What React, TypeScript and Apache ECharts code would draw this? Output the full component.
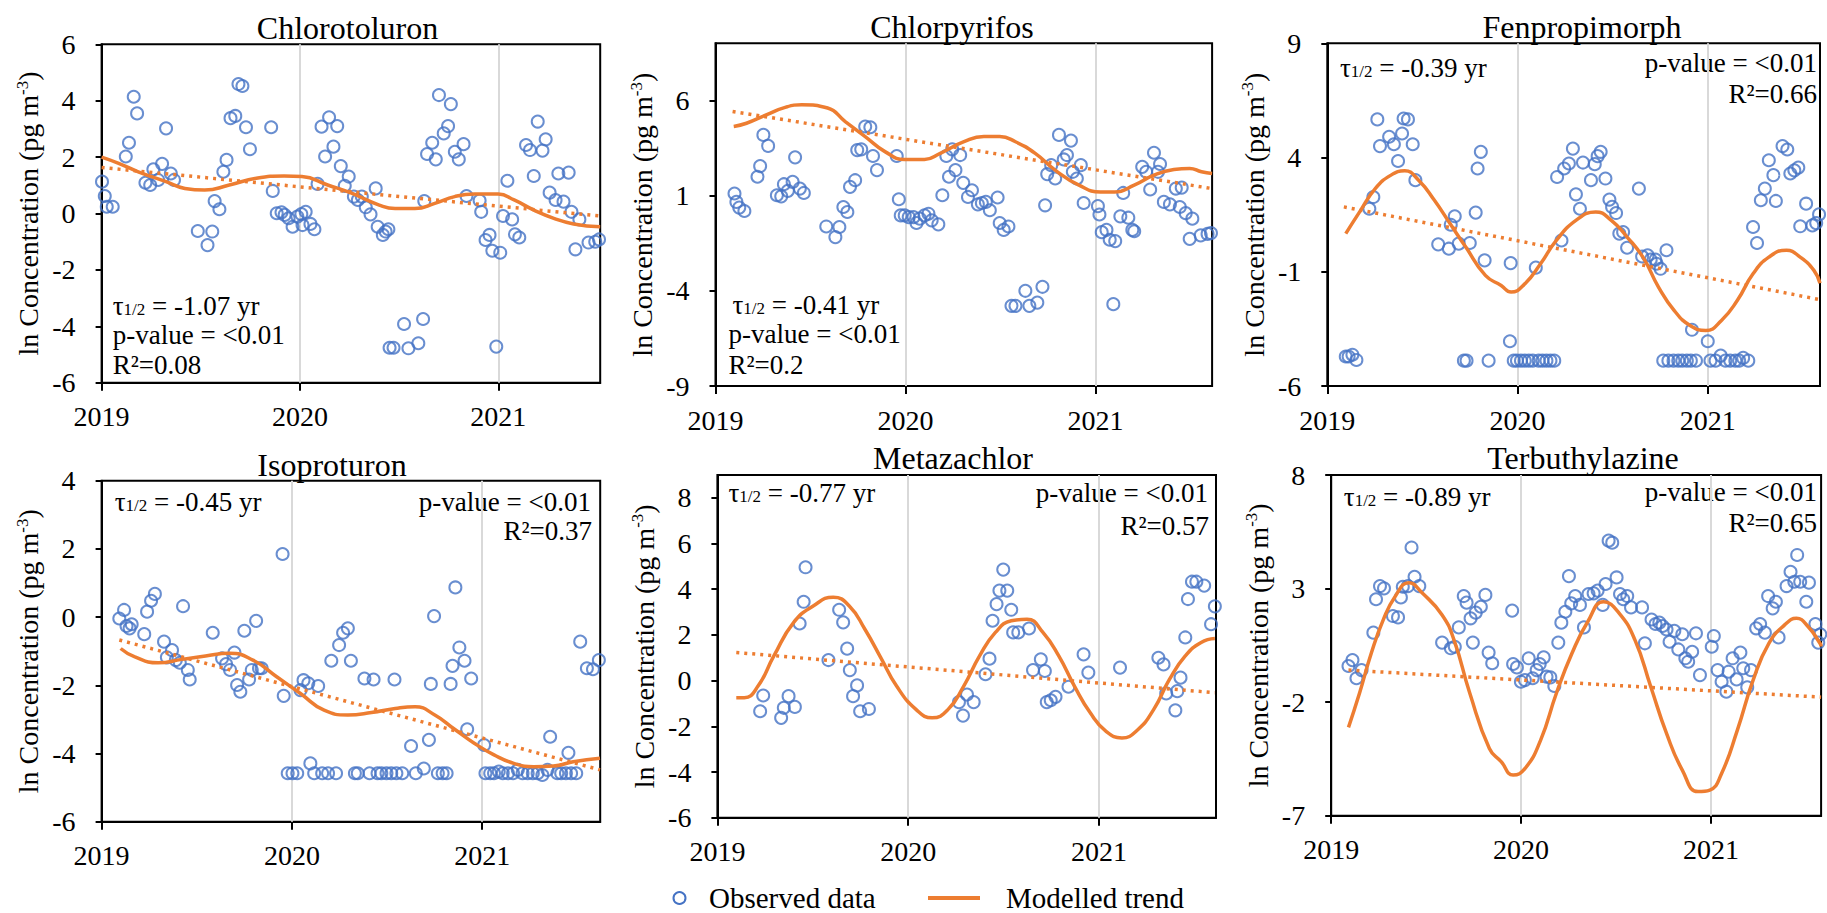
import React, { useEffect, useRef } from 'react';
import * as echarts from 'echarts';

const FONT = 'Liberation Serif, Times New Roman, serif';
const BLUE = '#4472C4';
const ORANGE = '#ED7D31';
const GRIDGRAY = '#D9D9D9';

// ---------- tick labels ----------
const yearTicks = [2019, 2020, 2021];
const chlorotoluronYTicks = [-6, -4, -2, 0, 2, 4, 6];
const chlorpyrifosYTicks = [-9, -4, 1, 6];
const fenpropimorphYTicks = [-6, -1, 4, 9];
const isoproturonYTicks = [-6, -4, -2, 0, 2, 4];
const metazachlorYTicks = [-6, -4, -2, 0, 2, 4, 6, 8];
const terbuthylazineYTicks = [-7, -2, 3, 8];

// ---------- panel texts ----------
const panelTitles = ['Chlorotoluron', 'Chlorpyrifos', 'Fenpropimorph', 'Isoproturon', 'Metazachlor', 'Terbuthylazine'];
const halfLives = ['-1.07', '-0.41', '-0.39', '-0.45', '-0.77', '-0.89'];
const pValues = ['<0.01', '<0.01', '<0.01', '<0.01', '<0.01', '<0.01'];
const rSquared = ['0.08', '0.2', '0.66', '0.37', '0.57', '0.65'];
const yAxisRanges = [[-6, 6, 2], [-9, 9, 5], [-6, 9, 5], [-6, 4, 2], [-6, 9, 2], [-7, 8, 5]];
const xMaxYears = [2021.514, 2021.614, 2021.59, 2021.62, 2021.613, 2021.58];

// ---------- Chlorotoluron ----------
const chlorotoluronObs = [[2019.002,1.13],[2019.016,0.62],[2019.026,0.24],[2019.056,0.24],[2019.122,2.02],[2019.138,2.51],[2019.162,4.14],[2019.179,3.55],[2019.221,1.09],[2019.245,1.01],[2019.261,1.57],[2019.285,1.19],[2019.305,1.76],[2019.325,3.02],[2019.349,1.42],[2019.365,1.19],[2019.485,-0.62],[2019.534,-1.12],[2019.558,-0.64],[2019.570,0.44],[2019.594,0.15],[2019.614,1.48],[2019.630,1.90],[2019.650,3.38],[2019.674,3.46],[2019.690,4.59],[2019.710,4.52],[2019.728,3.06],[2019.748,2.28],[2019.855,3.06],[2019.863,0.80],[2019.883,0.01],[2019.907,0.04],[2019.923,-0.05],[2019.943,-0.17],[2019.963,-0.47],[2019.987,-0.11],[2020.007,-0.02],[2020.013,-0.41],[2020.029,0.06],[2020.053,-0.37],[2020.073,-0.56],[2020.089,1.05],[2020.109,3.08],[2020.127,2.02],[2020.147,3.41],[2020.169,2.37],[2020.188,3.10],[2020.206,1.68],[2020.226,0.98],[2020.246,1.31],[2020.272,0.60],[2020.292,0.48],[2020.312,0.60],[2020.332,0.22],[2020.356,-0.03],[2020.382,0.89],[2020.392,-0.47],[2020.418,-0.76],[2020.432,-0.64],[2020.446,-0.56],[2020.452,-4.76],[2020.472,-4.76],[2020.525,-3.92],[2020.547,-4.78],[2020.597,-4.60],[2020.621,-3.74],[2020.627,0.44],[2020.641,2.11],[2020.667,2.51],[2020.685,1.92],[2020.701,4.20],[2020.725,2.84],[2020.747,3.10],[2020.761,3.88],[2020.781,2.19],[2020.801,1.92],[2020.825,2.46],[2020.840,0.62],[2020.906,0.46],[2020.914,0.06],[2020.936,-0.94],[2020.956,-0.76],[2020.970,-1.32],[2020.990,-4.72],[2021.010,-1.39],[2021.024,-0.09],[2021.046,1.16],[2021.070,-0.21],[2021.084,-0.74],[2021.106,-0.85],[2021.140,2.43],[2021.160,2.25],[2021.179,1.33],[2021.199,3.26],[2021.223,2.23],[2021.239,2.63],[2021.259,0.74],[2021.289,0.48],[2021.303,1.42],[2021.329,0.42],[2021.355,1.45],[2021.369,0.06],[2021.389,-1.27],[2021.409,-0.21],[2021.455,-1.03],[2021.489,-1.00],[2021.508,-0.92]];
const chlorotoluronTrend = [[2019.0,2.0],[2019.086,1.78],[2019.185,1.48],[2019.325,1.13],[2019.42,0.89],[2019.52,0.83],[2019.644,1.01],[2019.78,1.25],[2019.92,1.33],[2020.01,1.31],[2020.14,1.01],[2020.26,0.72],[2020.40,0.30],[2020.48,0.18],[2020.58,0.18],[2020.68,0.36],[2020.78,0.60],[2020.88,0.69],[2021.0,0.69],[2021.08,0.48],[2021.18,0.12],[2021.28,-0.17],[2021.38,-0.37],[2021.514,-0.47]];
const chlorotoluronLinear = [[2019.0,1.63],[2021.514,-0.09]];

// ---------- Chlorpyrifos ----------
const chlorpyrifosObs = [[2019.100,1.11],[2019.110,0.67],[2019.125,0.37],[2019.152,0.19],[2019.221,1.99],[2019.235,2.55],[2019.252,4.19],[2019.277,3.61],[2019.323,1.02],[2019.346,0.96],[2019.360,1.60],[2019.381,1.25],[2019.406,1.72],[2019.419,3.01],[2019.444,1.37],[2019.465,1.14],[2019.583,-0.62],[2019.631,-1.18],[2019.652,-0.65],[2019.673,0.40],[2019.694,0.14],[2019.708,1.46],[2019.735,1.81],[2019.746,3.39],[2019.767,3.43],[2019.788,4.63],[2019.815,4.59],[2019.829,3.08],[2019.850,2.34],[2019.954,3.08],[2019.965,0.81],[2019.975,-0.04],[2019.996,-0.04],[2020.017,-0.13],[2020.042,-0.13],[2020.058,-0.44],[2020.075,-0.21],[2020.100,-0.04],[2020.121,0.05],[2020.138,-0.30],[2020.173,-0.51],[2020.194,1.02],[2020.215,3.08],[2020.229,1.99],[2020.246,3.43],[2020.263,2.34],[2020.288,3.13],[2020.304,1.67],[2020.329,0.93],[2020.350,1.28],[2020.381,0.54],[2020.402,0.61],[2020.423,0.67],[2020.444,0.23],[2020.485,0.90],[2020.496,-0.44],[2020.517,-0.80],[2020.542,-0.62],[2020.558,-4.79],[2020.579,-4.79],[2020.631,-4.00],[2020.652,-4.79],[2020.694,-4.62],[2020.721,-3.79],[2020.735,0.49],[2020.746,2.13],[2020.767,2.60],[2020.788,1.90],[2020.808,4.19],[2020.833,2.90],[2020.850,3.13],[2020.871,3.89],[2020.881,2.25],[2020.902,1.90],[2020.923,2.60],[2020.938,0.61],[2021.013,0.45],[2021.021,0.01],[2021.033,-0.92],[2021.058,-0.80],[2021.075,-1.32],[2021.094,-4.70],[2021.104,-1.39],[2021.131,-0.09],[2021.146,1.14],[2021.173,-0.16],[2021.194,-0.80],[2021.204,-0.87],[2021.246,2.51],[2021.267,2.25],[2021.288,1.32],[2021.308,3.25],[2021.329,2.25],[2021.340,2.66],[2021.360,0.67],[2021.392,0.54],[2021.423,1.37],[2021.444,0.40],[2021.454,1.42],[2021.475,0.08],[2021.496,-1.27],[2021.510,-0.21],[2021.554,-1.09],[2021.590,-1.01],[2021.608,-0.97]];
const chlorpyrifosTrend = [[2019.096,4.63],[2019.163,4.80],[2019.267,5.24],[2019.371,5.65],[2019.454,5.77],[2019.590,5.60],[2019.683,4.89],[2019.788,4.10],[2019.892,3.31],[2019.996,2.90],[2020.100,2.90],[2020.183,3.22],[2020.308,3.83],[2020.413,4.10],[2020.496,4.10],[2020.579,3.83],[2020.683,3.22],[2020.788,2.34],[2020.913,1.55],[2021.027,1.19],[2021.100,1.19],[2021.204,1.55],[2021.308,2.07],[2021.413,2.37],[2021.496,2.43],[2021.558,2.25],[2021.614,2.16]];
const chlorpyrifosLinear = [[2019.09,5.42],[2021.614,1.37]];

// ---------- Fenpropimorph ----------
const fenpropimorphObs = [[2019.097,-4.71],[2019.112,-4.71],[2019.132,-4.63],[2019.153,-4.86],[2019.221,1.76],[2019.242,2.27],[2019.263,5.67],[2019.277,4.50],[2019.325,4.91],[2019.350,4.58],[2019.372,3.85],[2019.393,5.05],[2019.401,5.71],[2019.424,5.67],[2019.449,4.58],[2019.463,3.01],[2019.583,0.20],[2019.639,0.01],[2019.649,1.06],[2019.670,1.43],[2019.691,0.23],[2019.718,-4.89],[2019.732,-4.89],[2019.749,0.26],[2019.780,1.59],[2019.790,3.52],[2019.807,4.25],[2019.827,-0.50],[2019.848,-4.89],[2019.960,-4.04],[2019.964,-0.62],[2019.980,-4.89],[2019.997,-4.89],[2020.018,-4.89],[2020.038,-4.89],[2020.059,-4.89],[2020.080,-4.89],[2020.096,-0.82],[2020.111,-4.89],[2020.131,-4.89],[2020.152,-4.89],[2020.173,-4.89],[2020.193,-4.89],[2020.208,3.15],[2020.231,0.37],[2020.245,3.52],[2020.270,3.74],[2020.291,4.39],[2020.307,2.39],[2020.328,1.76],[2020.344,3.78],[2020.386,3.01],[2020.406,3.71],[2020.421,4.06],[2020.437,4.25],[2020.462,3.08],[2020.483,2.16],[2020.497,1.84],[2020.518,1.57],[2020.535,0.67],[2020.555,0.74],[2020.576,0.05],[2020.638,2.64],[2020.655,-0.33],[2020.684,-0.28],[2020.700,-0.47],[2020.725,-0.47],[2020.731,-0.65],[2020.752,-0.87],[2020.766,-4.89],[2020.783,-0.06],[2020.793,-4.89],[2020.820,-4.89],[2020.845,-4.89],[2020.866,-4.89],[2020.890,-4.89],[2020.911,-4.89],[2020.917,-3.54],[2020.938,-4.89],[2021.000,-4.04],[2021.014,-4.89],[2021.041,-4.89],[2021.068,-4.67],[2021.093,-4.89],[2021.118,-4.89],[2021.145,-4.89],[2021.165,-4.89],[2021.186,-4.77],[2021.213,-4.89],[2021.238,0.96],[2021.259,0.26],[2021.279,2.13],[2021.300,2.64],[2021.321,3.88],[2021.345,3.23],[2021.358,2.10],[2021.393,4.50],[2021.418,4.35],[2021.434,3.30],[2021.455,3.44],[2021.476,3.56],[2021.486,0.99],[2021.517,1.98],[2021.550,1.03],[2021.570,1.13],[2021.585,1.51]];
const fenpropimorphTrend = [[2019.097,0.67],[2019.170,1.62],[2019.252,2.64],[2019.335,3.23],[2019.407,3.42],[2019.480,3.01],[2019.563,2.13],[2019.645,1.11],[2019.728,0.08],[2019.831,-1.16],[2019.914,-1.60],[2019.966,-1.89],[2020.038,-1.53],[2020.121,-0.65],[2020.204,0.37],[2020.307,1.25],[2020.411,1.62],[2020.493,1.25],[2020.576,0.52],[2020.659,-0.36],[2020.741,-1.67],[2020.824,-2.70],[2020.907,-3.35],[2020.990,-3.57],[2021.072,-3.13],[2021.155,-2.26],[2021.238,-1.09],[2021.321,-0.36],[2021.414,-0.06],[2021.486,-0.36],[2021.558,-0.94],[2021.59,-1.50]];
const fenpropimorphLinear = [[2019.087,1.84],[2021.59,-2.22]];

// ---------- Isoproturon ----------
const isoproturonObs = [[2019.093,-0.04],[2019.118,0.21],[2019.131,-0.26],[2019.147,-0.33],[2019.158,-0.21],[2019.224,-0.50],[2019.239,0.16],[2019.260,0.48],[2019.280,0.68],[2019.328,-0.72],[2019.343,-1.18],[2019.370,-0.97],[2019.390,-1.26],[2019.411,-1.34],[2019.428,0.32],[2019.453,-1.55],[2019.463,-1.83],[2019.584,-0.46],[2019.633,-1.21],[2019.654,-1.38],[2019.675,-1.55],[2019.698,-1.04],[2019.712,-1.99],[2019.729,-2.19],[2019.750,-0.40],[2019.775,-1.83],[2019.789,-1.55],[2019.812,-0.11],[2019.827,-1.50],[2019.841,-1.50],[2019.951,1.85],[2019.957,-2.31],[2019.978,-4.58],[2020.003,-4.58],[2020.028,-4.58],[2020.045,-2.14],[2020.061,-1.85],[2020.086,-1.94],[2020.097,-4.29],[2020.117,-4.58],[2020.138,-2.02],[2020.159,-4.58],[2020.190,-4.58],[2020.207,-1.28],[2020.232,-4.58],[2020.248,-0.82],[2020.269,-0.46],[2020.294,-0.33],[2020.310,-1.28],[2020.331,-4.58],[2020.346,-4.58],[2020.381,-1.80],[2020.408,-4.58],[2020.429,-1.83],[2020.450,-4.58],[2020.470,-4.58],[2020.497,-4.58],[2020.522,-4.58],[2020.539,-1.83],[2020.549,-4.58],[2020.580,-4.58],[2020.626,-3.78],[2020.651,-4.58],[2020.693,-4.44],[2020.720,-3.60],[2020.730,-1.96],[2020.747,0.03],[2020.767,-4.58],[2020.792,-4.58],[2020.813,-4.58],[2020.834,-1.96],[2020.844,-1.43],[2020.859,0.87],[2020.880,-0.89],[2020.907,-1.28],[2020.921,-3.29],[2020.942,-1.80],[2021.010,-3.75],[2021.017,-4.58],[2021.042,-4.58],[2021.062,-4.58],[2021.087,-4.53],[2021.108,-4.58],[2021.135,-4.58],[2021.162,-4.58],[2021.187,-4.48],[2021.212,-4.58],[2021.239,-4.58],[2021.266,-4.58],[2021.291,-4.58],[2021.316,-4.63],[2021.343,-4.48],[2021.357,-3.51],[2021.395,-4.58],[2021.415,-4.58],[2021.440,-4.58],[2021.453,-3.98],[2021.467,-4.58],[2021.494,-4.58],[2021.515,-0.72],[2021.550,-1.50],[2021.582,-1.53],[2021.613,-1.26]];
const isoproturonTrend = [[2019.100,-0.92],[2019.172,-1.16],[2019.297,-1.34],[2019.422,-1.24],[2019.546,-1.14],[2019.671,-1.06],[2019.795,-1.26],[2019.920,-1.75],[2020.045,-2.24],[2020.169,-2.73],[2020.294,-2.87],[2020.418,-2.80],[2020.543,-2.68],[2020.647,-2.63],[2020.751,-2.87],[2020.855,-3.29],[2020.958,-3.70],[2021.062,-4.04],[2021.166,-4.29],[2021.270,-4.39],[2021.374,-4.37],[2021.478,-4.24],[2021.619,-4.14]];
const isoproturonLinear = [[2019.093,-0.67],[2021.619,-4.48]];

// ---------- Metazachlor ----------
const metazachlorObs = [[2019.224,-1.34],[2019.240,-0.65],[2019.334,-1.63],[2019.348,-1.19],[2019.373,-0.68],[2019.406,-1.15],[2019.431,2.50],[2019.452,3.45],[2019.462,4.96],[2019.582,0.90],[2019.638,3.10],[2019.659,2.55],[2019.680,1.40],[2019.694,0.46],[2019.711,-0.68],[2019.732,-0.21],[2019.748,-1.34],[2019.794,-1.24],[2020.266,-0.94],[2020.287,-1.53],[2020.308,-0.61],[2020.343,-0.94],[2020.405,0.28],[2020.426,0.96],[2020.442,2.62],[2020.463,3.35],[2020.478,3.94],[2020.498,4.86],[2020.519,3.94],[2020.540,3.10],[2020.550,2.11],[2020.577,2.11],[2020.633,2.28],[2020.654,0.46],[2020.695,0.93],[2020.716,0.42],[2020.726,-0.94],[2020.747,-0.86],[2020.772,-0.71],[2020.840,-0.27],[2020.919,1.15],[2020.944,0.35],[2021.110,0.57],[2021.311,1.00],[2021.338,0.71],[2021.352,-0.56],[2021.400,-1.30],[2021.410,-0.46],[2021.427,0.13],[2021.452,1.89],[2021.466,3.57],[2021.487,4.33],[2021.510,4.33],[2021.551,4.16],[2021.587,2.47],[2021.607,3.25]];
const metazachlorTrend = [[2019.099,-0.75],[2019.141,-0.75],[2019.213,-0.24],[2019.296,1.08],[2019.400,2.55],[2019.504,3.28],[2019.607,3.65],[2019.690,3.28],[2019.773,2.25],[2019.856,1.01],[2019.939,-0.24],[2020.042,-1.27],[2020.125,-1.63],[2020.208,-1.27],[2020.291,-0.24],[2020.374,1.08],[2020.457,2.11],[2020.540,2.62],[2020.623,2.69],[2020.706,2.11],[2020.789,1.08],[2020.871,-0.24],[2020.954,-1.41],[2021.037,-2.22],[2021.120,-2.51],[2021.203,-2.15],[2021.286,-1.27],[2021.369,0.05],[2021.452,1.08],[2021.535,1.67],[2021.607,1.84]];
const metazachlorLinear = [[2019.099,1.23],[2021.607,-0.53]];

// ---------- Terbuthylazine ----------
const terbuthylazineObs = [[2019.091,-0.41],[2019.112,-0.15],[2019.133,-0.95],[2019.160,-0.59],[2019.222,1.06],[2019.236,2.53],[2019.257,3.11],[2019.278,3.01],[2019.325,1.79],[2019.352,1.73],[2019.367,2.61],[2019.377,3.08],[2019.404,3.11],[2019.423,4.81],[2019.439,3.52],[2019.464,3.11],[2019.584,0.62],[2019.630,0.37],[2019.651,0.44],[2019.672,1.29],[2019.698,2.67],[2019.713,2.38],[2019.734,1.69],[2019.746,0.62],[2019.761,1.94],[2019.788,2.20],[2019.812,2.72],[2019.829,0.18],[2019.848,-0.29],[2019.953,2.03],[2019.958,-0.32],[2019.978,-0.47],[2019.999,-1.10],[2020.020,-1.03],[2020.040,-0.07],[2020.061,-0.95],[2020.082,-0.59],[2020.098,-0.32],[2020.119,-0.03],[2020.134,-0.88],[2020.154,-0.91],[2020.175,-1.29],[2020.196,0.62],[2020.212,1.50],[2020.233,1.98],[2020.252,3.55],[2020.264,2.35],[2020.285,2.67],[2020.310,2.28],[2020.331,1.29],[2020.355,2.76],[2020.382,2.79],[2020.403,2.91],[2020.430,2.28],[2020.445,3.20],[2020.461,5.11],[2020.480,5.02],[2020.503,3.49],[2020.521,2.76],[2020.538,2.53],[2020.559,2.67],[2020.579,2.17],[2020.637,2.17],[2020.652,0.59],[2020.687,1.64],[2020.708,1.44],[2020.728,1.50],[2020.745,1.35],[2020.766,1.20],[2020.782,0.66],[2020.807,1.14],[2020.828,0.32],[2020.849,0.99],[2020.865,-0.07],[2020.880,-0.22],[2020.901,0.22],[2020.921,1.03],[2020.942,-0.81],[2021.004,0.44],[2021.015,0.91],[2021.035,-0.59],[2021.056,-1.10],[2021.081,-1.54],[2021.093,-0.66],[2021.114,-0.07],[2021.135,-1.00],[2021.155,0.18],[2021.170,-0.51],[2021.191,-1.35],[2021.211,-0.59],[2021.238,1.25],[2021.259,1.44],[2021.284,1.06],[2021.301,2.67],[2021.325,2.13],[2021.342,2.42],[2021.356,0.85],[2021.398,3.11],[2021.419,3.74],[2021.439,3.30],[2021.454,4.48],[2021.470,3.30],[2021.502,2.42],[2021.516,3.26],[2021.550,1.44],[2021.565,0.62],[2021.576,0.99]];
const terbuthylazineTrend = [[2019.091,-3.11],[2019.149,-1.61],[2019.211,0.15],[2019.274,1.62],[2019.336,2.64],[2019.408,3.26],[2019.481,2.79],[2019.584,1.84],[2019.647,0.73],[2019.730,-1.61],[2019.833,-4.04],[2019.895,-4.62],[2019.958,-5.21],[2020.021,-4.92],[2020.103,-3.67],[2020.186,-1.61],[2020.268,0.15],[2020.351,1.54],[2020.434,2.42],[2020.517,1.91],[2020.600,0.73],[2020.683,-1.32],[2020.766,-3.38],[2020.849,-4.99],[2020.932,-5.94],[2020.994,-5.87],[2021.056,-5.14],[2021.139,-3.23],[2021.222,-1.03],[2021.305,0.59],[2021.388,1.40],[2021.450,1.69],[2021.512,1.32],[2021.574,0.59],[2021.58,0.45]];
const terbuthylazineLinear = [[2019.091,-0.59],[2021.58,-1.78]];

const observedSets = [chlorotoluronObs, chlorpyrifosObs, fenpropimorphObs, isoproturonObs, metazachlorObs, terbuthylazineObs];
const trendSets = [chlorotoluronTrend, chlorpyrifosTrend, fenpropimorphTrend, isoproturonTrend, metazachlorTrend, terbuthylazineTrend];
const linearSets = [chlorotoluronLinear, chlorpyrifosLinear, fenpropimorphLinear, isoproturonLinear, metazachlorLinear, terbuthylazineLinear];
const yTickSets = [chlorotoluronYTicks, chlorpyrifosYTicks, fenpropimorphYTicks, isoproturonYTicks, metazachlorYTicks, terbuthylazineYTicks];

// ---------- layout (pixels) ----------
const LAYOUT = [
  { grid: [101.6, 44.3, 498.6, 338.4], title: [347.5, 28], tau: [112.7, 306], p: [112.7, 335, 'left'], r: [112.7, 365, 'left'] },
  { grid: [715.5, 43.3, 496.6, 342.7], title: [952, 27], tau: [732.5, 305], p: [728.5, 334, 'left'], r: [728.5, 365, 'left'] },
  { grid: [1327.3, 43.3, 492.7, 342.7], title: [1582, 27], tau: [1339.9, 68], p: [1817, 63, 'right'], r: [1817, 93.5, 'right'] },
  { grid: [101.6, 480.7, 498.6, 341], title: [332, 465], tau: [114.7, 501.5], p: [591, 501.5, 'right'], r: [592, 531, 'right'] },
  { grid: [717.4, 475, 498.6, 342.7], title: [953, 458], tau: [728.5, 493.3], p: [1208, 493.3, 'right'], r: [1209, 526, 'right'] },
  { grid: [1331.2, 475, 489.9, 340.7], title: [1583, 458], tau: [1343.8, 496.7], p: [1817, 492, 'right'], r: [1817, 523.3, 'right'] },
];

const near = (list: number[], v: number) => list.some((t) => Math.abs(t - v) < 1e-6);

function textEl(x: number, y: number, text: string, size: number, align: string, rich?: any) {
  return {
    type: 'text',
    x,
    y,
    silent: true,
    style: {
      text,
      fill: '#000',
      fontSize: size,
      fontFamily: FONT,
      align,
      textAlign: align,
      verticalAlign: 'middle',
      textVerticalAlign: 'middle',
      rich,
    },
  };
}

function buildOption() {
  const grid: any[] = [];
  const xAxis: any[] = [];
  const yAxis: any[] = [];
  const series: any[] = [];
  const graphic: any[] = [];

  LAYOUT.forEach((L, i) => {
    const [gl, gt, gw, gh] = L.grid as number[];
    grid.push({
      left: gl, top: gt, width: gw, height: gh,
      show: true, borderColor: '#000', borderWidth: 2, backgroundColor: 'transparent',
      containLabel: false, outerBoundsMode: 'none',
    });
    xAxis.push({
      type: 'value', gridIndex: i, min: 2019, max: xMaxYears[i], interval: 1,
      axisLine: { show: true, onZero: false, lineStyle: { color: '#000', width: 2 } },
      axisTick: { show: true, length: 8, lineStyle: { color: '#000', width: 2 }, customValues: yearTicks },
      axisLabel: {
        show: true, margin: 20, fontSize: 28, fontFamily: FONT, color: '#000',
        formatter: (v: number) => (near(yearTicks, v) ? String(Math.round(v)) : ''),
      },
      splitLine: { show: false },
    });
    const [ymin, ymax, yint] = yAxisRanges[i];
    const ticks = yTickSets[i];
    yAxis.push({
      type: 'value', gridIndex: i, min: ymin, max: ymax, interval: yint,
      name: 'ln Concentration (pg m{sup|-3})',
      nameLocation: 'middle', nameGap: 58, nameRotate: 90, nameMoveOverlap: false,
      nameTextStyle: {
        fontSize: 28, fontFamily: FONT, color: '#000', lineHeight: 30,
        rich: { sup: { fontSize: 17, lineHeight: 14, verticalAlign: 'top', fontFamily: FONT, color: '#000' } },
      },
      axisLine: { show: true, onZero: false, lineStyle: { color: '#000', width: 2 } },
      axisTick: { show: true, length: 6, lineStyle: { color: '#000', width: 2 }, customValues: ticks },
      axisLabel: {
        show: true, margin: 26, fontSize: 28, fontFamily: FONT, color: '#000',
        formatter: (v: number) => (near(ticks, v) ? String(Math.round(v)) : ''),
      },
      splitLine: { show: false },
    });

    series.push({
      type: 'scatter', name: 'Observed data', xAxisIndex: i, yAxisIndex: i,
      data: observedSets[i], symbol: 'circle', symbolSize: 12, z: 2,
      itemStyle: { color: 'rgba(255,255,255,0)', borderColor: BLUE, borderWidth: 2 },
      emphasis: { disabled: true }, silent: true,
      markLine: {
        silent: true, z: 1, symbol: ['none', 'none'], label: { show: false },
        lineStyle: { color: GRIDGRAY, width: 2, type: 'solid' },
        emphasis: { disabled: true },
        data: [{ xAxis: yearTicks[1] }, { xAxis: yearTicks[2] }],
      },
    });
    series.push({
      type: 'line', name: 'Modelled trend', xAxisIndex: i, yAxisIndex: i,
      data: trendSets[i], smooth: true, symbol: 'none', showSymbol: false, z: 3,
      lineStyle: { color: ORANGE, width: 3.5 }, itemStyle: { color: ORANGE },
      emphasis: { disabled: true }, silent: true,
    });
    series.push({
      type: 'line', name: 'Linear trend', xAxisIndex: i, yAxisIndex: i,
      data: linearSets[i], symbol: 'none', showSymbol: false, z: 3,
      lineStyle: { color: ORANGE, width: 3.5, type: [3, 5], cap: 'butt' }, itemStyle: { color: ORANGE },
      emphasis: { disabled: true }, silent: true,
    });

    // titles and annotations
    graphic.push(textEl(L.title[0] as number, L.title[1] as number, panelTitles[i], 32, 'center'));
    graphic.push(textEl(L.tau[0] as number, L.tau[1] as number, `{t|τ}{s|1/2}{t| = ${halfLives[i]} yr}`, 27, 'left', {
      t: { fontSize: 27, fontFamily: FONT, fill: '#000', lineHeight: 24 },
      s: { fontSize: 17, fontFamily: FONT, fill: '#000', lineHeight: 12, verticalAlign: 'bottom' },
    }));
    graphic.push(textEl(L.p[0] as number, L.p[1] as number, `p-value = ${pValues[i]}`, 27, L.p[2] as string));
    graphic.push(textEl(L.r[0] as number, L.r[1] as number, `R²=${rSquared[i]}`, 27, L.r[2] as string));
  });

  // legend
  graphic.push({
    type: 'circle', silent: true, shape: { cx: 679.5, cy: 898, r: 6 },
    style: { fill: 'none', stroke: BLUE, lineWidth: 2 },
  });
  graphic.push(textEl(709, 898, 'Observed data', 29, 'left'));
  graphic.push({
    type: 'line', silent: true, shape: { x1: 928, y1: 898, x2: 980, y2: 898 },
    style: { stroke: ORANGE, lineWidth: 4 },
  });
  graphic.push(textEl(1006, 898, 'Modelled trend', 29, 'left'));

  return {
    animation: false,
    backgroundColor: '#fff',
    textStyle: { fontFamily: FONT },
    grid, xAxis, yAxis, series, graphic,
  };
}

export default function App() {
  const ref = useRef<HTMLDivElement>(null);
  useEffect(() => {
    if (!ref.current) return;
    const chart = echarts.init(ref.current, undefined, { renderer: 'svg', width: 1827, height: 913 });
    chart.setOption(buildOption() as any);
    return () => chart.dispose();
  }, []);
  return (
    <div
      ref={ref}
      style={{ position: 'fixed', left: 0, top: 0, width: 1827, height: 913, background: '#fff' }}
    />
  );
}
